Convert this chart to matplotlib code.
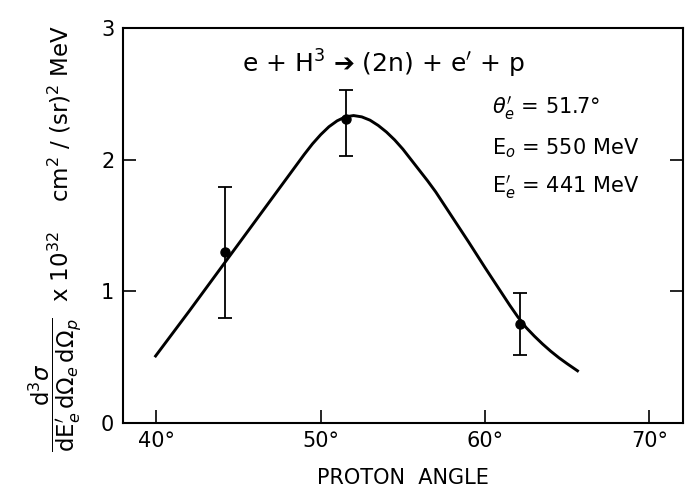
import matplotlib
matplotlib.use("Agg")
import matplotlib.pyplot as plt

plt.rcParams['mathtext.fontset'] = 'dejavusans'
plt.rcParams['font.family'] = ['DejaVu Sans']

# measured points
angle = [44.2, 51.55, 62.1]
xsec = [1.30, 2.31, 0.75]
err_lo = [0.50, 0.28, 0.23]
err_hi = [0.49, 0.22, 0.24]

# theoretical curve
curve_x = [39.9, 42.0, 44.0, 46.0, 48.0, 48.5, 49.0, 49.5, 50.0, 50.5, 51.0,
           51.5, 52.0, 52.5, 53.0, 53.5, 54.0, 54.5, 55.0, 55.5, 56.0, 56.5,
           57.0, 58.0, 59.0, 60.0, 61.0, 61.5, 62.0, 62.5, 63.0, 63.5, 64.0,
           64.5, 65.0, 65.7]
curve_y = [0.50, 0.85, 1.19, 1.53, 1.87, 1.955, 2.04, 2.12, 2.19, 2.25, 2.295,
           2.325, 2.335, 2.325, 2.30, 2.26, 2.21, 2.15, 2.08, 2.00, 1.92, 1.84,
           1.755, 1.565, 1.375, 1.18, 0.99, 0.895, 0.805, 0.725, 0.66, 0.60,
           0.545, 0.495, 0.45, 0.39]

xticks = [40, 50, 60, 70]
xticklabels = ['40°', '50°', '60°', '70°']
yticks = [0, 1, 2, 3]
yticklabels = ['0', '1', '2', '3']

fig = plt.figure(figsize=(6.97, 5.00), dpi=100)
ax = fig.add_axes([0.176, 0.154, 0.804, 0.790])

ax.plot(curve_x, curve_y, color='black', lw=2.1, solid_capstyle='butt',
        solid_joinstyle='round')
ax.errorbar(angle, xsec, yerr=[err_lo, err_hi], fmt='o', color='black',
            ms=6.5, elinewidth=1.3, capsize=5, capthick=1.3)

ax.set_xlim(37.95, 72.05)
ax.set_ylim(0, 3)
ax.set_xticks(xticks)
ax.set_xticklabels(xticklabels, fontsize=15)
ax.set_yticks(yticks)
ax.set_yticklabels(yticklabels, fontsize=15)
ax.tick_params(axis='both', direction='in', length=9.5, width=1.2,
               right=True, top=False, pad=6)
for s in ax.spines.values():
    s.set_linewidth(1.5)

ax.set_xlabel('PROTON  ANGLE', fontsize=15, labelpad=12)

ax.text(53.8, 2.73, r'e + H$^3$ ➔ (2n) + e$^{\prime}$ + p', fontsize=18,
        ha='center', va='center')
ax.text(60.4, 2.39, r'$\theta^{\prime}_{e}$ = 51.7°', fontsize=15,
        ha='left', va='center')
ax.text(60.4, 2.09, r'E$_o$ = 550 MeV', fontsize=15, ha='left', va='center')
ax.text(60.4, 1.79, r'E$^{\prime}_e$ = 441 MeV', fontsize=15, ha='left',
        va='center')

# y-axis label: fraction + units
fig.text(0.078, 0.23,
         r'$\dfrac{\mathrm{d}^3\sigma}{\mathrm{d}\mathrm{E}^{\prime}_e\,\mathrm{d}\Omega_e\,\mathrm{d}\Omega_p}$',
         rotation=90, fontsize=16.5, ha='center', va='center')
fig.text(0.086, 0.395,
         r'x 10$^{32}$    cm$^2$ / (sr)$^2$ MeV',
         rotation=90, fontsize=16.5, ha='center', va='bottom')

fig.savefig('out.png', dpi=100)
